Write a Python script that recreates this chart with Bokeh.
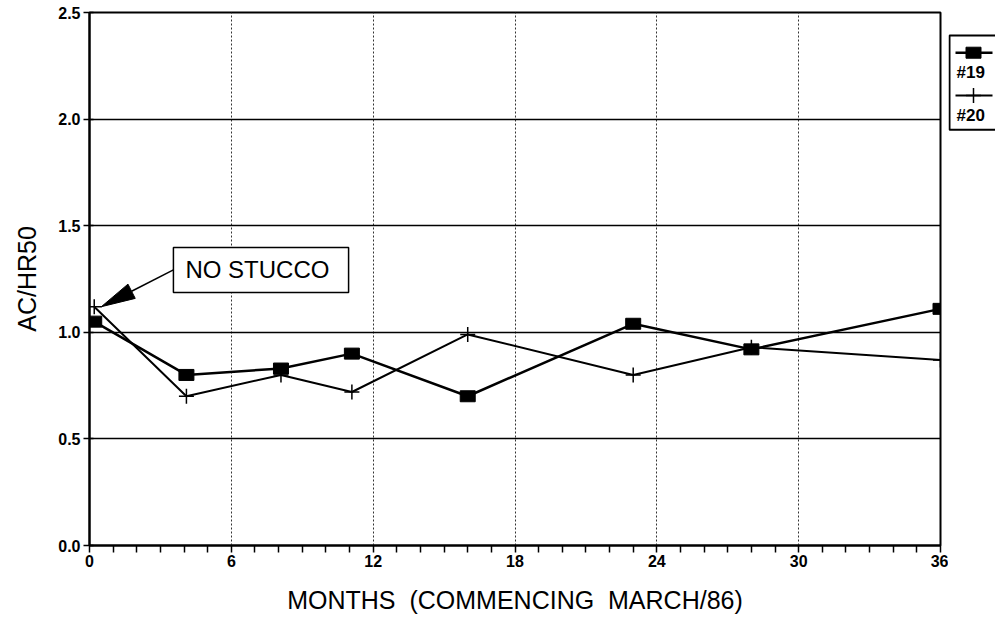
import math

from bokeh.plotting import figure
from bokeh.models import (Range1d, FixedTicker, NumeralTickFormatter, BoxAnnotation, Label)
from bokeh.layouts import row
from bokeh.embed import file_html
from bokeh.resources import INLINE
from bokeh.core.properties import value

# --- data -------------------------------------------------------------------
months = [0.2, 4.1, 8.1, 11.1, 16.0, 23.0, 28.0, 36.0]
ratio_19 = [1.05, 0.80, 0.83, 0.90, 0.70, 1.04, 0.92, 1.11]
ratio_20 = [1.12, 0.70, 0.80, 0.72, 0.99, 0.80, 0.93, 0.87]
series_names = ["#19", "#20"]
x_ticks = [0, 6, 12, 18, 24, 30, 36]
y_ticks = [0.0, 0.5, 1.0, 1.5, 2.0, 2.5]
callout_text = "NO STUCCO"
x_title = "MONTHS\u00a0\u00a0(COMMENCING\u00a0\u00a0MARCH/86)"
y_title = "AC/HR50"

FONT = "Liberation Sans"
INK = "black"

# --- main chart geometry ------------------------------------------------------
W, H = 948, 623
BL, BR, BT, BB = 89, 8, 12, 78
X0, X1 = 0, 36
Y0, Y1 = 0, 2.5
px_per_x = (W - BL - BR) / (X1 - X0)
px_per_y = (H - BT - BB) / (Y1 - Y0)

p = figure(width=W, height=H, x_range=Range1d(X0, X1), y_range=Range1d(Y0, Y1),
           toolbar_location=None, output_backend="svg",
           min_border_left=BL, min_border_right=BR, min_border_top=BT, min_border_bottom=BB)
p.background_fill_color = "white"
p.border_fill_color = "white"
p.outline_line_color = INK
p.outline_line_width = 2

# x axis: a tick every month, labelled only every 6 months
month_ticks = list(range(X0, X1 + 1))
p.xaxis.ticker = FixedTicker(ticks=month_ticks)
p.xaxis.major_label_overrides = {m: ("" if m not in x_ticks else str(m)) for m in month_ticks}
p.xaxis.major_tick_in = 0
p.xaxis.major_tick_out = 7
p.xaxis.minor_tick_line_color = None
p.xaxis.major_label_standoff = 2
p.xaxis.axis_label = x_title
p.xaxis.axis_label_standoff = 16

# y axis
p.yaxis.ticker = FixedTicker(ticks=y_ticks)
p.yaxis.formatter = NumeralTickFormatter(format="0.0")
p.yaxis.major_tick_in = 4
p.yaxis.major_tick_out = 6
p.yaxis.minor_tick_line_color = None
p.yaxis.major_label_standoff = 3
p.yaxis.axis_label = y_title
p.yaxis.axis_label_standoff = 14

for ax in (p.xaxis, p.yaxis):
    ax.axis_line_color = INK
    ax.axis_line_width = 2
    ax.major_tick_line_color = INK
    ax.major_tick_line_width = 1.5
    ax.major_label_text_font = FONT
    ax.major_label_text_font_size = "16px"
    ax.major_label_text_font_style = "bold"
    ax.major_label_text_color = INK
    ax.axis_label_text_font = FONT
    ax.axis_label_text_font_size = "25px"
    ax.axis_label_text_font_style = "normal"
    ax.axis_label_text_color = INK

# grid: solid horizontals, dotted verticals
p.ygrid.ticker = FixedTicker(ticks=y_ticks)
p.ygrid.grid_line_color = INK
p.ygrid.grid_line_width = 1.6
p.xgrid.ticker = FixedTicker(ticks=x_ticks)
p.xgrid.grid_line_color = "#333333"
p.xgrid.grid_line_width = 1
p.xgrid.grid_line_dash = "2 2"

# series #19: thick line with filled square markers
p.line(months, ratio_19, line_color=INK, line_width=2.5)
p.rect(months, ratio_19, width=15, height=11, width_units="screen", height_units="screen",
       fill_color=INK, line_color=INK)

# series #20: line with plus markers
p.line(months, ratio_20, line_color=INK, line_width=2)
p.scatter(months, ratio_20, marker="cross", size=15, line_color=INK, line_width=1.5)

# callout box with an arrow pointing at the first #20 reading
box_left, box_right, box_bottom, box_top = 3.55, 10.96, 1.187, 1.398
box_mid = (box_bottom + box_top) / 2
tip_x, tip_y = months[0] + 0.3, ratio_20[0]

# slender arrow head, built in screen pixels then mapped back to data units
head_len, head_half = 34, 8
dx_px = (tip_x - box_left) * px_per_x
dy_px = (tip_y - box_mid) * px_per_y
norm = math.hypot(dx_px, dy_px)
ux, uy = dx_px / norm, dy_px / norm
base_x_px, base_y_px = -ux * head_len, -uy * head_len
nx, ny = -uy, ux
head_xs = [tip_x,
           tip_x + (base_x_px + nx * head_half) / px_per_x,
           tip_x + (base_x_px - nx * head_half) / px_per_x]
head_ys = [tip_y,
           tip_y + (base_y_px + ny * head_half) / px_per_y,
           tip_y + (base_y_px - ny * head_half) / px_per_y]

p.segment(x0=[box_left], y0=[box_mid],
          x1=[tip_x + base_x_px / px_per_x], y1=[tip_y + base_y_px / px_per_y],
          line_color=INK, line_width=1.5)
p.patch(head_xs, head_ys, fill_color=INK, line_color=INK, line_width=1)

p.add_layout(BoxAnnotation(left=box_left, right=box_right, bottom=box_bottom, top=box_top,
                           fill_color="white", fill_alpha=1.0,
                           line_color=INK, line_width=1.5, line_alpha=1.0))
p.add_layout(Label(x=box_left, y=box_mid, x_offset=12, text=callout_text,
                   text_font=FONT, text_font_size="24px", text_color=INK,
                   text_align="left", text_baseline="middle"))

# --- legend panel to the right of the chart ----------------------------------
q = figure(width=47, height=H, x_range=Range1d(0, 47), y_range=Range1d(H, 0),
           toolbar_location=None, output_backend="svg",
           x_axis_type=None, y_axis_type=None, min_border=0)
q.outline_line_color = None
q.grid.visible = False
q.background_fill_color = "white"
q.border_fill_color = "white"

q.quad(left=[1], right=[90], top=[27], bottom=[137], fill_color="white",
       line_color=INK, line_width=2)
# #19 key
q.line([7, 44], [47, 47], line_color=INK, line_width=2.5)
q.rect([25], [47], width=15, height=11, width_units="screen", height_units="screen",
       fill_color=INK, line_color=INK)
# #20 key
q.line([7, 44], [97, 97], line_color=INK, line_width=2)
q.scatter([25], [97], marker="cross", size=15, line_color=INK, line_width=1.5)
q.text([8, 8], [70, 120], text=series_names, text_font=value(FONT), text_font_size="17px",
       text_font_style="bold", text_color=INK, text_baseline="middle", text_align="left")

layout = row(p, q, spacing=0)
open("out.html", "w").write(file_html(layout, INLINE))
